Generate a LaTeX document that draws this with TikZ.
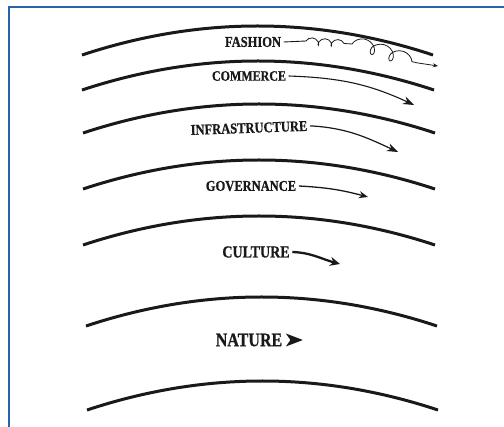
\documentclass[tikz,border=0pt]{standalone}
\usepackage{fontspec}
\setmainfont{Liberation Serif}
\newfontfamily\lblfont{Liberation Serif}[BoldFeatures={FakeBold=0.8}]
\usetikzlibrary{arrows.meta,decorations.pathmorphing}
\definecolor{frameblue}{RGB}{38,100,178}
\tikzset{
  band/.style={line width=3pt, draw=black!90},
  lbl/.style={font=\lblfont\bfseries\fontsize{#1}{#1}\selectfont, inner sep=2.5pt, text=black!90},
  flow/.style={draw=black!90, line width=1.2pt, -{Stealth[length=11pt,width=8pt]}},
}
\newcommand{\tall}[1]{\scalebox{1}[1.2]{#1}}
\newcommand{\bandarc}[4]{%
  % left x, right x, end y, apex y
  \pgfmathsetmacro{\ctrly}{#3-4/3*(#3-#4)}%
  \pgfmathsetmacro{\cxa}{#1+2/3*((#1+#2)/2-#1)}%
  \pgfmathsetmacro{\cxb}{#2-2/3*(#2-(#1+#2)/2)}%
  \draw[band] (#1,#3) .. controls (\cxa,\ctrly) and (\cxb,\ctrly) .. (#2,#3);}
\begin{document}
\begin{tikzpicture}[x=1pt,y=-1pt]
\useasboundingbox (0,0) rectangle (504,427);
% frame
\draw[frameblue, line width=2pt] (8.5,427) -- (8.5,7.5) -- (504,7.5);
% arcs
\bandarc{82}{433}{55}{26}
\bandarc{82}{434}{90}{61}
\bandarc{83}{435}{133}{104}
\bandarc{83}{435}{189}{160}
\bandarc{83}{435}{245}{216}
\bandarc{86}{437}{326}{297}
\bandarc{87}{438}{410}{381}
% labels
\node[lbl=12.5] (fashion) at (253,42) {\tall{FASHION}};
\node[lbl=12] (commerce) at (249,76) {\tall{COMMERCE}};
\node[lbl=12.5, rotate=2] (infra) at (249,128) {\tall{INFRASTRUCTURE}};
\node[lbl=12.5] (gov) at (251,186) {\tall{GOVERNANCE}};
\node[lbl=14] (culture) at (256,252) {\tall{CULTURE}};
\node[lbl=16] (nature) at (249,340) {\tall{NATURE}};
% arrow ends
\coordinate (fmid) at (306,41);
\coordinate (fa) at (352,44);
\coordinate (fb) at (418,63);
\coordinate (fend) at (438,66);
\coordinate (cend) at (414,105);
\coordinate (iend) at (398,152);
\coordinate (gend) at (368,197);
\coordinate (uend) at (340,264);
% fashion squiggle
\draw[black!90, line width=0.9pt] (fashion.east) -- (fmid);
\draw[black!90, line width=0.8pt, -{Stealth[length=5pt,width=4pt]}]
  (fmid) decorate[decoration={coil, amplitude=3.5pt, segment length=13pt, aspect=0.8}] {-- (fa)}
  decorate[decoration={coil, amplitude=7pt, segment length=20pt, aspect=0.9}] {to[out=-10, in=165] (fb)}
  -- (fend);
% arrows
\draw[flow, line width=1.1pt] (commerce.east) to[out=-2, in=155] (cend);
\draw[flow, line width=1.2pt] (infra.east) to[out=-3, in=155] (iend);
\draw[flow, line width=1.3pt, -{Stealth[length=9pt,width=7pt]}] (gov.east) to[out=-3, in=165] (gend);
\draw[flow, line width=2.3pt, -{Stealth[length=10pt,width=9pt]}] (culture.east) to[out=-2, in=165] (uend);
% nature arrowhead
\fill[black!90] (nature.east) ++(1,-6.5) -- ++(17,6.5) -- ++(-17,6.5) -- ++(4.5,-6.5) -- cycle;
\end{tikzpicture}
\end{document}
